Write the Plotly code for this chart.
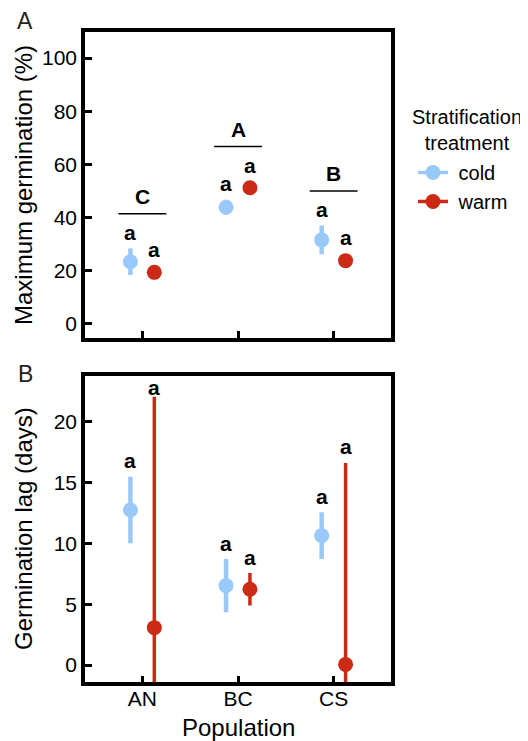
import plotly.graph_objects as go

# ---------------- data ----------------
populations = ["AN", "BC", "CS"]
treatments = ["cold", "warm"]

# Panel A: maximum germination (%)
cold_max = [23.4, 43.9, 31.6]
cold_max_se = [5.0, 2.8, 5.4]
warm_max = [19.4, 51.2, 23.8]
warm_max_se = [2.5, 2.5, 2.5]
pop_letters = ["C", "A", "B"]

# Panel B: germination lag (days)
cold_lag = [12.74, 6.52, 10.63]
cold_lag_se = [2.73, 2.18, 1.93]
warm_lag = [3.07, 6.22, 0.05]
warm_lag_se = [18.98, 1.33, 16.55]

trt_letters_max = [["a", "a", "a"], ["a", "a", "a"]]
trt_letters_lag = [["a", "a", "a"], ["a", "a", "a"]]

# ---------------- style ----------------
COLD = "#99c9fb"
WARM = "#cc2a14"
FONT = "Liberation Sans, Arial, sans-serif"
OFF = 8                      # page body margin of the browser
W, H = 528 - OFF, 741 - OFF
dodge = 0.125


def px(xr):
    return (xr - OFF) / W


def py(yr):
    return 1 - (yr - OFF) / H


xpos = [1, 2, 3]
x_cold = [x - dodge for x in xpos]
x_warm = [x + dodge for x in xpos]

fig = go.Figure()


def add_series(xs, ys, es, color, thick, xa, ya, name):
    fig.add_trace(go.Scatter(
        x=xs, y=ys, mode="markers", name=name, showlegend=False,
        marker=dict(color=color, size=15, line=dict(width=0)),
        error_y=dict(type="data", array=es, visible=True, color=color,
                     thickness=thick, width=0),
        xaxis=xa, yaxis=ya, cliponaxis=True))


add_series(x_cold, cold_max, cold_max_se, COLD, 4.5, "x", "y", "cold")
add_series(x_warm, warm_max, warm_max_se, WARM, 3.5, "x", "y", "warm")
add_series(x_cold, cold_lag, cold_lag_se, COLD, 4.5, "x2", "y2", "cold")
add_series(x_warm, warm_lag, warm_lag_se, WARM, 3.5, "x2", "y2", "warm")

# legend entries
for name, color in zip(treatments, [COLD, WARM]):
    fig.add_trace(go.Scatter(
        x=[None], y=[None], mode="lines+markers", name="\u00a0" + name,
        marker=dict(color=color, size=15), line=dict(color=color, width=3.5),
        xaxis="x", yaxis="y"))

annotations = []
shapes = []
lab_font = dict(family=FONT, size=21, color="black", weight="bold")

# treatment letters
for xs, ys, es, labs in [(x_cold, cold_max, cold_max_se, trt_letters_max[0]),
                         (x_warm, warm_max, warm_max_se, trt_letters_max[1])]:
    for xv, yv, ev, lb in zip(xs, ys, es, labs):
        annotations.append(dict(x=xv, y=yv + ev, xref="x", yref="y", text=lb,
                                showarrow=False, yanchor="middle", yshift=16,
                                font=lab_font))
for xs, ys, es, labs in [(x_cold, cold_lag, cold_lag_se, trt_letters_lag[0]),
                         (x_warm, warm_lag, warm_lag_se, trt_letters_lag[1])]:
    for xv, yv, ev, lb in zip(xs, ys, es, labs):
        annotations.append(dict(x=xv, y=min(yv + ev, 21.5), xref="x2", yref="y2",
                                text=lb, showarrow=False, yanchor="middle",
                                yshift=16, font=lab_font))

# population letters with bracket lines
for i, xv in enumerate(xpos):
    top = max(cold_max[i] + cold_max_se[i], warm_max[i] + warm_max_se[i]) + 13
    shapes.append(dict(type="line", xref="x", yref="y", x0=xv - 0.25, x1=xv + 0.25,
                       y0=top, y1=top, line=dict(color="black", width=1.5)))
    annotations.append(dict(x=xv, y=top, xref="x", yref="y", text=pop_letters[i],
                            showarrow=False, yanchor="middle", yshift=17,
                            font=lab_font))

# panel letters, axis titles, legend title
annotations += [
    dict(x=px(25), y=py(21), xref="paper", yref="paper", text="A", showarrow=False,
         xanchor="center", yanchor="middle", font=dict(family=FONT, size=23, color="#222")),
    dict(x=px(25), y=py(374), xref="paper", yref="paper", text="B", showarrow=False,
         xanchor="center", yanchor="middle", font=dict(family=FONT, size=23, color="#222")),
    dict(x=px(23), y=py(185), xref="paper", yref="paper",
         text="Maximum germination (%)", textangle=-90, showarrow=False,
         xanchor="center", yanchor="middle", font=dict(family=FONT, size=24, color="black")),
    dict(x=px(23), y=py(529), xref="paper", yref="paper",
         text="Germination lag (days)", textangle=-90, showarrow=False,
         xanchor="center", yanchor="middle", font=dict(family=FONT, size=24, color="black")),
    dict(x=px(238), y=py(727), xref="paper", yref="paper", text="Population",
         showarrow=False, xanchor="center", yanchor="middle",
         font=dict(family=FONT, size=24, color="black")),
    dict(x=px(466.5), y=py(130), xref="paper", yref="paper",
         text="Stratification<br>treatment", showarrow=False, align="center",
         xanchor="center", yanchor="middle",
         font=dict(family=FONT, size=20, color="black")),
]

xdom = [px(85), px(391)]
axis_common = dict(showline=True, mirror=True, linecolor="black", linewidth=3.5,
                   ticks="inside", ticklen=7, tickwidth=3, tickcolor="black",
                   showgrid=False, zeroline=False,
                   tickfont=dict(family=FONT, size=21, color="black"))

fig.update_layout(
    width=W, height=H,
    margin=dict(l=0, r=0, t=0, b=0, autoexpand=False),
    paper_bgcolor="white", plot_bgcolor="white",
    font=dict(family=FONT, color="black"),
    xaxis=dict(domain=xdom, range=[0.4, 3.6], tickvals=xpos, showticklabels=False,
               anchor="y", **axis_common),
    yaxis=dict(domain=[py(338), py(32)], range=[-5.3, 109.8],
               tickvals=[0, 20, 40, 60, 80, 100], anchor="x", ticklabelstandoff=0,
               **axis_common),
    xaxis2=dict(domain=xdom, range=[0.4, 3.6], tickvals=xpos, ticktext=populations,
                anchor="y2", ticklabelstandoff=-5, **axis_common),
    yaxis2=dict(domain=[py(682.3), py(375.7)], range=[-1.42, 23.77],
                tickvals=[0, 5, 10, 15, 20], anchor="x2", ticklabelstandoff=0,
                **axis_common),
    legend=dict(x=px(413), y=py(187), xanchor="left", yanchor="middle",
                bgcolor="rgba(0,0,0,0)",
                font=dict(family=FONT, size=20, color="black"),
                itemwidth=30, tracegroupgap=0),
    annotations=annotations, shapes=shapes,
)

fig.write_html("out.html")
